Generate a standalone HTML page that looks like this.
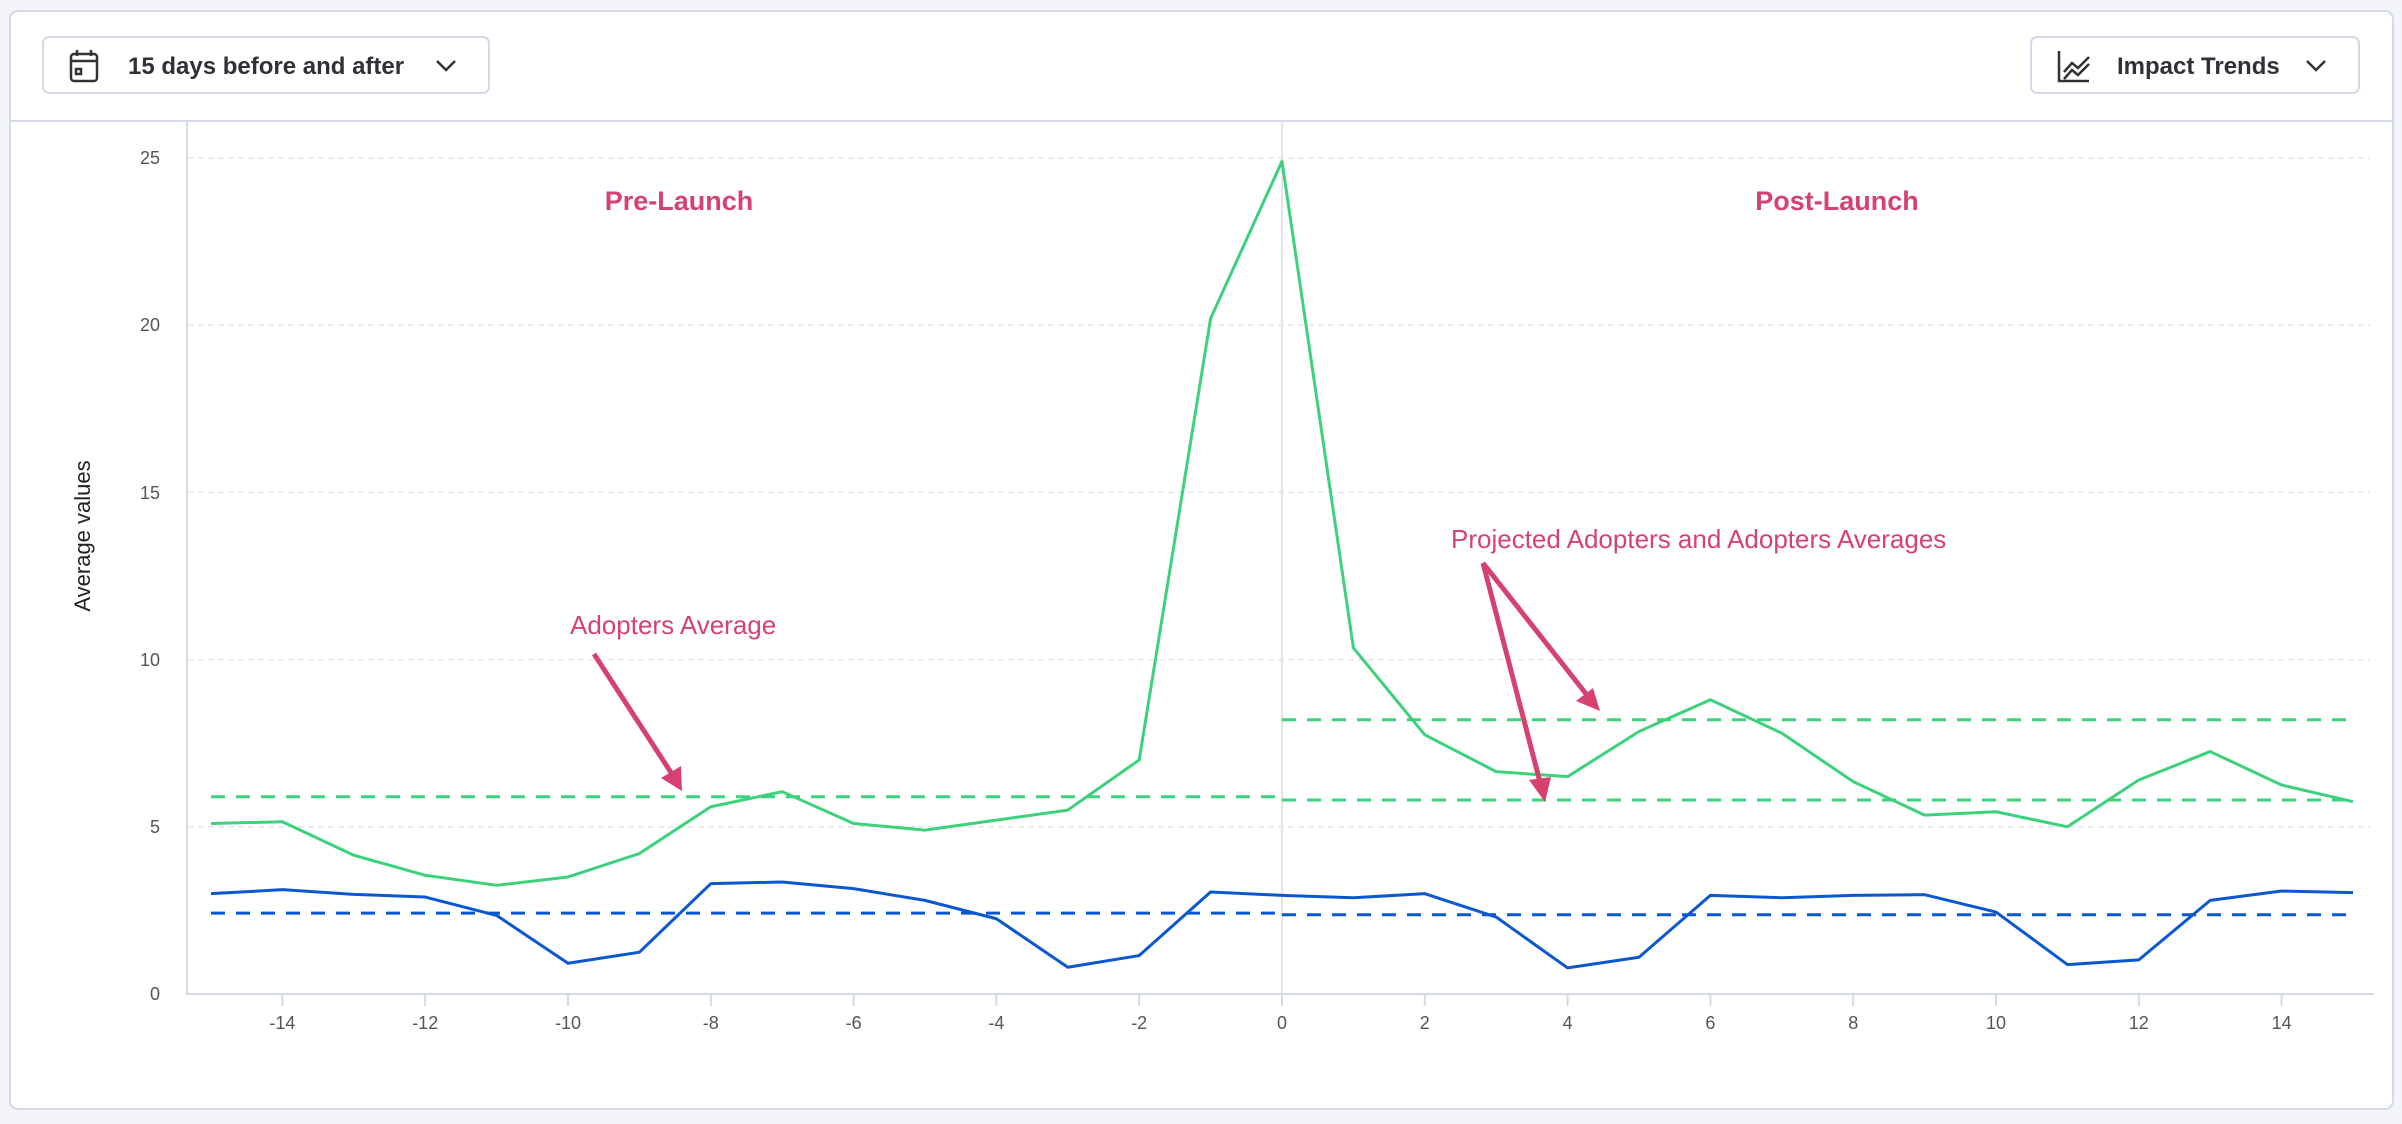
<!DOCTYPE html>
<html><head><meta charset="utf-8"><style>
html,body{margin:0;padding:0;background:#f4f5fa;width:2402px;height:1124px;overflow:hidden;font-family:"Liberation Sans",sans-serif}
svg{position:absolute;left:0;top:0}
</style></head><body>
<svg width="2402" height="1124" viewBox="0 0 2402 1124" xmlns="http://www.w3.org/2000/svg">
<rect x="10" y="11" width="2383" height="1098" rx="8" fill="#fff" stroke="#d3d9e8" stroke-width="2"/>
<line x1="10" y1="121" x2="2393" y2="121" stroke="#d3d9e8" stroke-width="2"/>
<!-- button 1 -->
<rect x="43" y="37" width="446" height="56" rx="6" fill="#fff" stroke="#d3d9e8" stroke-width="2"/>
<g stroke="#333" stroke-width="2.5" fill="none">
<rect x="71" y="54" width="26" height="27" rx="3"/><line x1="71" y1="61" x2="97" y2="61"/>
<line x1="77" y1="50" x2="77" y2="56"/><line x1="91" y1="50" x2="91" y2="56"/>
<rect x="76" y="69" width="5" height="5"/>
<path d="M437 61 L446 70 L455 61"/>
</g>
<text x="128" y="74" font-size="24" font-weight="bold" fill="#2f3138">15 days before and after</text>
<!-- button 2 -->
<rect x="2031" y="37" width="328" height="56" rx="6" fill="#fff" stroke="#d3d9e8" stroke-width="2"/>
<g stroke="#333" stroke-width="2.5" fill="none">
<path d="M2059 51 V81 H2089"/><path d="M2064 72 L2072 63 L2078 68 L2089 57"/><path d="M2064 79 L2072 70 L2078 75 L2089 64"/>
<path d="M2307 61 L2316 70 L2325 61"/>
</g>
<text x="2117" y="74" font-size="24" font-weight="bold" fill="#2f3138">Impact Trends</text>
<!-- grid -->
<g stroke="#e3e5ea" stroke-width="1.5" stroke-dasharray="6,4">
<line x1="188" y1="158" x2="2370" y2="158"/><line x1="188" y1="325.2" x2="2370" y2="325.2"/>
<line x1="188" y1="492.4" x2="2370" y2="492.4"/><line x1="188" y1="659.6" x2="2370" y2="659.6"/>
<line x1="188" y1="826.8" x2="2370" y2="826.8"/>
</g>
<line x1="1282" y1="121" x2="1282" y2="994" stroke="#e3e5ea" stroke-width="2"/>
<line x1="187" y1="121" x2="187" y2="995" stroke="#d3d9e8" stroke-width="2"/>
<line x1="187" y1="994" x2="2374" y2="994" stroke="#d3d9e8" stroke-width="2"/>
<g font-size="18" fill="#555" text-anchor="end">
<text x="160" y="1000">0</text><text x="160" y="833">5</text><text x="160" y="666">10</text>
<text x="160" y="499">15</text><text x="160" y="331">20</text><text x="160" y="164">25</text>
</g>
<text transform="translate(90,536) rotate(-90)" font-size="22" fill="#222" text-anchor="middle">Average values</text>
<g id="xt" stroke="#d3d9e8" stroke-width="2"></g>
<g font-size="18" fill="#555" text-anchor="middle">
<text x="282.4" y="1029">-14</text><text x="425.2" y="1029">-12</text><text x="568" y="1029">-10</text>
<text x="710.8" y="1029">-8</text><text x="853.6" y="1029">-6</text><text x="996.4" y="1029">-4</text>
<text x="1139.2" y="1029">-2</text><text x="1282" y="1029">0</text><text x="1424.8" y="1029">2</text>
<text x="1567.6" y="1029">4</text><text x="1710.4" y="1029">6</text><text x="1853.2" y="1029">8</text>
<text x="1996" y="1029">10</text><text x="2138.8" y="1029">12</text><text x="2281.6" y="1029">14</text>
</g>
<g id="series"></g>
<g fill="#d6426f">
<text x="679" y="210" font-size="27" font-weight="bold" text-anchor="middle">Pre-Launch</text>
<text x="1837" y="210" font-size="27" font-weight="bold" text-anchor="middle">Post-Launch</text>
<text x="570" y="634" font-size="26">Adopters Average</text>
<text x="1451" y="548" font-size="26">Projected Adopters and Adopters Averages</text>
</g>
<g stroke="#d6426f" stroke-width="5" fill="#d6426f">
<line x1="594" y1="654" x2="672" y2="774"/><polygon points="682,791 661,778 681,766" stroke="none"/>
<line x1="1483" y1="563" x2="1587" y2="695"/><polygon points="1600,711 1576,701 1593,688" stroke="none"/>
<line x1="1483" y1="563" x2="1540" y2="782"/><polygon points="1545,802 1529,780 1551,777" stroke="none"/>
</g>
</svg>
<script>
var X=v=>1282+71.4*v, Y=v=>994-33.44*v;
var g=[5.1,5.15,4.15,3.55,3.25,3.5,4.2,5.6,6.05,5.1,4.9,5.2,5.5,7.0,20.2,24.9,10.35,7.75,6.65,6.5,7.85,8.8,7.8,6.35,5.35,5.45,5.0,6.4,7.25,6.25,5.75];
var b=[3.0,3.12,2.98,2.9,2.35,0.92,1.25,3.3,3.35,3.15,2.8,2.25,0.8,1.15,3.05,2.95,2.88,3.0,2.3,0.78,1.1,2.95,2.88,2.95,2.97,2.45,0.88,1.02,2.8,3.08,3.03];
var ns="http://www.w3.org/2000/svg";
function el(p,t,a){var e=document.createElementNS(ns,t);for(var k in a)e.setAttribute(k,a[k]);p.appendChild(e);}
var s=document.getElementById('series'),xt=document.getElementById('xt');
for(var v=-14;v<=14;v+=2)el(xt,'line',{x1:X(v),y1:994,x2:X(v),y2:1006});
function dl(a,b2,y,c){el(s,'line',{x1:X(a),y1:Y(y),x2:X(b2),y2:Y(y),stroke:c,'stroke-width':3,'stroke-dasharray':'14,11'});}
dl(-15,0,5.9,'#3dd17c');dl(0,15,8.2,'#3dd17c');dl(0,15,5.8,'#3dd17c');
dl(-15,0,2.42,'#0b57d0');dl(0,15,2.37,'#0b57d0');
function pl(d,c){el(s,'polyline',{points:d.map((y,i)=>X(i-15)+','+Y(y)).join(' '),fill:'none',stroke:c,'stroke-width':3,'stroke-linejoin':'round'});}
pl(g,'#3dd17c');pl(b,'#0b57d0');
</script>
</body></html>
